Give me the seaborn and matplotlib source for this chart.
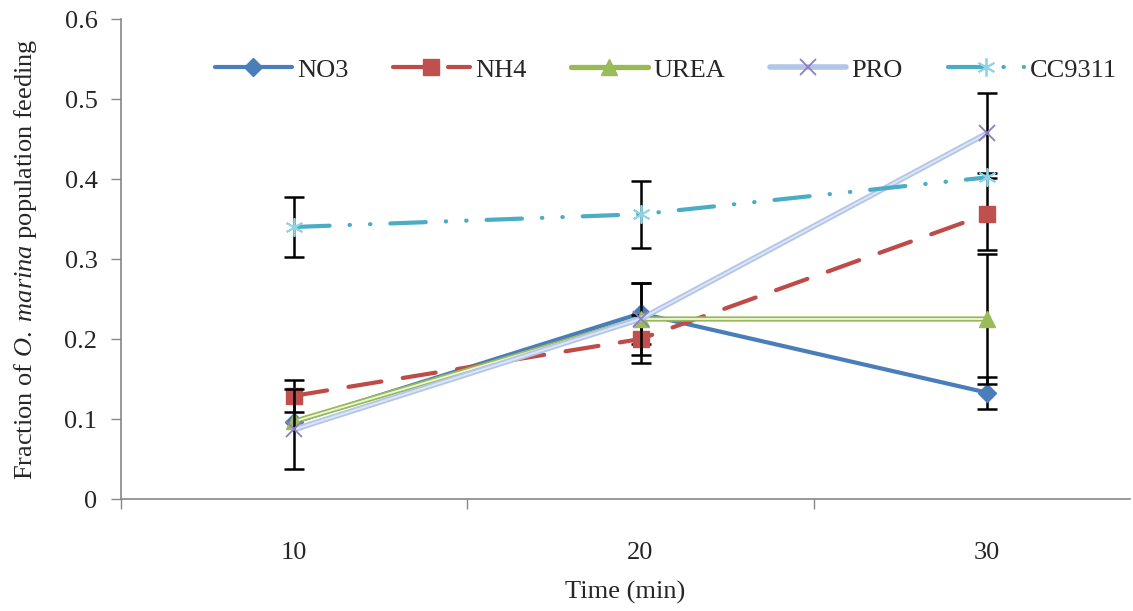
import numpy as np
import pandas as pd
import matplotlib
matplotlib.use("Agg")
import matplotlib.pyplot as plt
from matplotlib.lines import Line2D
import seaborn as sns

# Sampling times (min) and fraction of O. marina feeding per prey treatment
times = ["10", "20", "30"]
no3 = [0.096, 0.232, 0.133]
nh4 = [0.129, 0.200, 0.356]
urea = [0.097, 0.225, 0.225]
pro = [0.087, 0.225, 0.457]
cc9311 = [0.340, 0.356, 0.402]

# Error bar half-widths (standard deviation)
no3_err = [0.000, 0.038, 0.020]
nh4_err = [0.020, 0.030, 0.045]
urea_err = [0.000, 0.045, 0.081]
pro_err = [0.050, 0.000, 0.050]
cc9311_err = [0.037, 0.042, 0.000]

sns.set_theme(style="white")
plt.rcParams["font.family"] = ["Liberation Serif", "DejaVu Serif"]
plt.rcParams["mathtext.fontset"] = "custom"
plt.rcParams["mathtext.rm"] = "Liberation Serif"
plt.rcParams["mathtext.it"] = "Liberation Serif:italic"

FS = 19

fig = plt.figure(figsize=(11.33, 6.11), dpi=100)
ax = fig.add_axes([0.1068, 0.1833, 0.8905, 0.7856])

pos = np.arange(len(times))
df = pd.DataFrame({"pos": pos})

series = [
    dict(name="NO3", y=no3, err=no3_err, color="#4A7EBB", lw=3.0, dashes=None,
         marker="D", ms=9.5, mfc="#4A7EBB", mec="#4A7EBB"),
    dict(name="NH4", y=nh4, err=nh4_err, color="#BE4B48", lw=3.0, dashes=(8, 5.2),
         marker="s", ms=11, mfc="#C0504D", mec="#C0504D"),
    dict(name="UREA", y=urea, err=urea_err, color="#98B954", lw=3.8, dashes=None,
         marker="^", ms=11.5, mfc="#9BBB59", mec="#9BBB59", inner="#EEF4E2"),
    dict(name="PRO", y=pro, err=pro_err, color="#B3C6E7", lw=4.0, dashes=None,
         marker="x", ms=11, mfc="#8E7CC3", mec="#8E7CC3", inner="#DCE6F4"),
    dict(name="CC9311", y=cc9311, err=cc9311_err, color="#4BACC6", lw=3.0,
         dashes=(8.5, 4.8, 0.1, 4.8, 0.1, 4.8),
         marker=(6, 2, 0), ms=13, mfc="#8FD3E6", mec="#8FD3E6"),
]

handles = []
for i, s in enumerate(series):
    z = 3 + i
    df[s["name"]] = s["y"]
    sns.lineplot(data=df, x="pos", y=s["name"], ax=ax, color=s["color"],
                 linewidth=s["lw"], zorder=z, legend=False)
    line = ax.lines[-1]
    if s["dashes"] is not None:
        line.set_dashes(s["dashes"])
        line.set_dash_capstyle("round")
    else:
        line.set_solid_capstyle("round")
    if "inner" in s:
        ax.plot(pos, s["y"], color=s["inner"], linewidth=s["lw"] * 0.35,
                zorder=z + 0.1, solid_capstyle="round")
    # error bars
    err = np.array(s["err"])
    mask = err > 0
    if mask.any():
        ax.errorbar(pos[mask], np.array(s["y"])[mask], yerr=err[mask], fmt="none",
                    ecolor="black", elinewidth=1.8, capsize=7, capthick=1.8,
                    zorder=z + 0.2)
    mew = 1.3 if s["marker"] == "x" or isinstance(s["marker"], tuple) else 1
    ax.plot(pos, s["y"], linestyle="none", marker=s["marker"], markersize=s["ms"],
            markerfacecolor=s["mfc"], markeredgecolor=s["mec"],
            markeredgewidth=mew, zorder=z + 0.3)
    h = Line2D([0], [0], color=s["color"], linewidth=s["lw"], marker=s["marker"],
               markersize=s["ms"], markerfacecolor=s["mfc"], markeredgecolor=s["mec"],
               markeredgewidth=mew)
    if s["dashes"] is not None:
        h.set_dashes(s["dashes"])
        h.set_dash_capstyle("round")
    handles.append(h)

ax.set_xlim(-0.5, 2.413)
ax.set_ylim(0, 0.6)
ax.set_yticks(np.arange(0, 0.61, 0.1))
ax.set_yticklabels(["0", "0.1", "0.2", "0.3", "0.4", "0.5", "0.6"], fontsize=FS)

# category boundaries carry the tick marks, category centres carry the labels
ax.set_xticks([-0.5, 0.5, 1.5])
ax.set_xticklabels([])
ax.set_xticks(pos, minor=True)
ax.set_xticklabels(times, minor=True, fontsize=FS)
ax.tick_params(axis="x", which="major", direction="out", length=7, width=1,
               color="#878787", bottom=True)
ax.tick_params(axis="x", which="minor", length=0, pad=31)
ax.tick_params(axis="y", direction="out", length=7, width=1, color="#878787",
               left=True, pad=10)

for side in ("top", "right"):
    ax.spines[side].set_visible(False)
for side in ("left", "bottom"):
    ax.spines[side].set_color("#878787")
    ax.spines[side].set_linewidth(1.2)

ax.set_xlabel("Time (min)", fontsize=FS, labelpad=12)
ax.set_ylabel(r"Fraction of $\mathit{O.\ marina}$ population feeding", fontsize=FS,
              labelpad=18)

leg = ax.legend(handles, [s["name"] for s in series], loc="center",
                bbox_to_anchor=(0.54, 0.894), ncol=5, frameon=False, fontsize=FS,
                handlelength=2.9, columnspacing=1.7, handletextpad=0.2)

fig.savefig("out.png", dpi=100)
